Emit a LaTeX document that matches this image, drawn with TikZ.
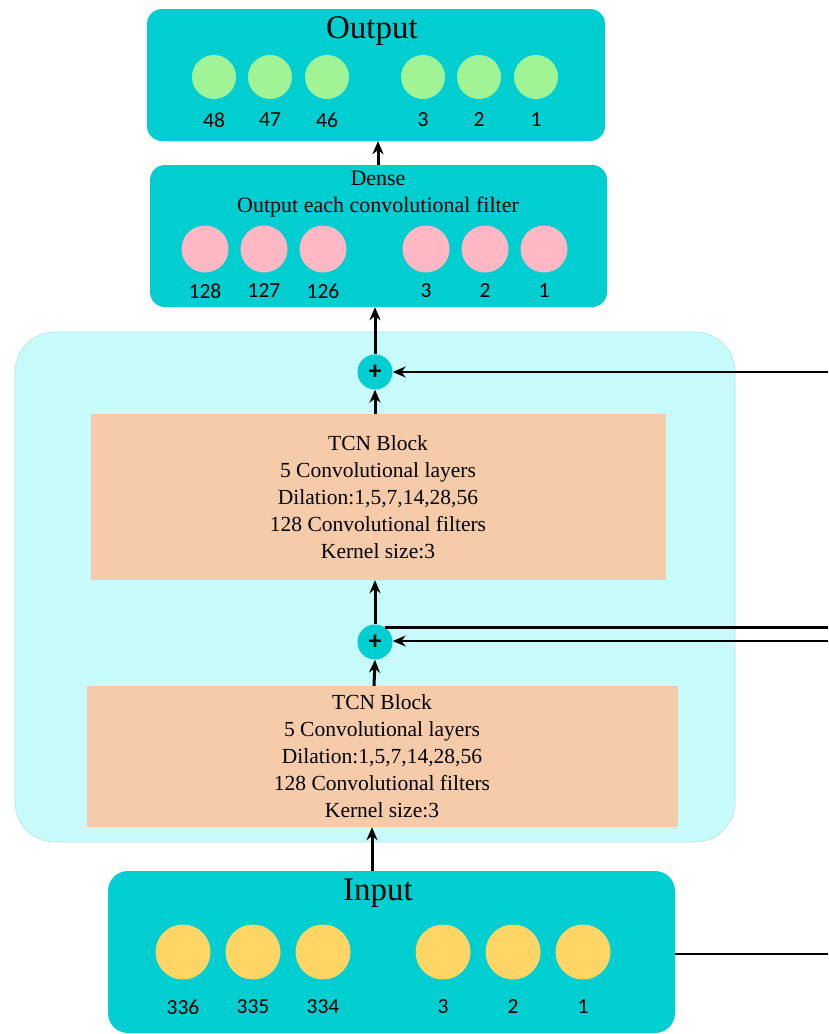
\documentclass[tikz,border=0pt]{standalone}
\usepackage{fontspec}
\setmainfont{Liberation Serif}
\newfontfamily\numfont{Carlito}
\usetikzlibrary{arrows.meta}
\definecolor{tealbox}{RGB}{0,206,209}
\definecolor{lightcyan}{RGB}{200,252,252}
\definecolor{cyanedge}{RGB}{180,225,228}
\definecolor{peach}{RGB}{245,203,170}
\definecolor{greenc}{RGB}{160,244,150}
\definecolor{pinkc}{RGB}{255,184,196}
\definecolor{yellowc}{RGB}{255,214,102}
\tikzset{
  tbox/.style={rectangle, fill=tealbox, rounded corners=15pt, inner sep=0pt},
  blockbox/.style={rectangle, fill=peach, inner sep=0pt},
  outerbox/.style={rectangle, fill=lightcyan, draw=cyanedge, line width=0.6pt, rounded corners=40pt, inner sep=0pt},
  neuron/.style={circle, inner sep=0pt, draw=none},
  numlab/.style={font=\numfont\fontsize{21.5}{21.5}\selectfont, inner sep=0pt},
  titletext/.style={font=\fontsize{33}{33}\selectfont, inner sep=0pt},
  bodytext/.style={font=\fontsize{21.5}{27}\selectfont, align=center, inner sep=0pt},
  plusnode/.style={circle, fill=tealbox, minimum size=35pt, inner sep=0pt, font=\numfont\bfseries\fontsize{26}{26}\selectfont},
  arr/.style={-{Stealth[length=13pt,width=11pt]}, line width=3pt},
  arrthin/.style={-{Stealth[length=13pt,width=11pt]}, line width=2.4pt},
  plain/.style={line width=2.4pt}
}
\begin{document}
\begin{tikzpicture}[x=1pt,y=-1pt]
\useasboundingbox (0,0) rectangle (828,1034);

% Output box
\node[tbox, minimum width=458pt, minimum height=132pt] (outbox) at (376,75) {};
\node[titletext] (outtitle) at (372,31) {Output};
\foreach \x/\l [count=\i] in {214/48,270/47,327/46,423/3,479/2,536/1}{
  \node[neuron, fill=greenc, minimum size=44pt] (o\i) at (\x,77) {};
  \node[numlab] (ol\i) at (\x,120) {\l};
}

% Dense box
\node[tbox, minimum width=457pt, minimum height=142pt] (densebox) at (378.5,236) {};
\node[bodytext, font=\fontsize{22}{27}\selectfont] (densetext) at (378,194) {Dense\\Output each convolutional filter};
\foreach \x/\l [count=\i] in {205/128,264/127,323/126,426/3,485/2,544/1}{
  \node[neuron, fill=pinkc, minimum size=47pt] (d\i) at (\x,249) {};
  \node[numlab] (dl\i) at (\x,291) {\l};
}

% Outer light box
\node[outerbox, minimum width=720pt, minimum height=510pt] (outer) at (375,587) {};

% TCN blocks
\node[blockbox, minimum width=575pt, minimum height=166pt] (tcn1) at (378.5,497) {};
\node[bodytext] (tcn1text) at (378,497) {TCN Block\\5 Convolutional layers\\Dilation:1,5,7,14,28,56\\128 Convolutional filters\\Kernel size:3};
\node[blockbox, minimum width=591pt, minimum height=141pt] (tcn2) at (382.5,756.5) {};
\node[bodytext] (tcn2text) at (382,756) {TCN Block\\5 Convolutional layers\\Dilation:1,5,7,14,28,56\\128 Convolutional filters\\Kernel size:3};

% Plus nodes
\node[plusnode] (p1) at (375,372) {+};
\node[plusnode] (p2) at (375,642) {+};

% Input box
\node[tbox, minimum width=567pt, minimum height=162pt, rounded corners=20pt] (inbox) at (391.5,952) {};
\node[titletext] (intitle) at (378,893) {Input};
\foreach \x/\l [count=\i] in {183/336,253/335,323/334,443/3,513/2,583/1}{
  \node[neuron, fill=yellowc, minimum size=55pt] (n\i) at (\x,952) {};
  \node[numlab] (nl\i) at (\x,1007) {\l};
}

% Right-edge coordinates
\coordinate (r1) at (828,372);
\coordinate (r2) at (828,628);
\coordinate (r3) at (828,641);
\coordinate (r4) at (828,954);

% Vertical connectors
\draw[arr] (inbox.north -| 372,0) -- (tcn2.south -| 372,0);
\draw[arr] (tcn2.north -| 374,0) -- (p2.south);
\draw[arr] (p2.north) -- (tcn1.south -| 375,0);
\draw[arr] (tcn1.north -| 375,0) -- (p1.south);
\draw[arr] (p1.north) -- (densebox.south -| 375,0);
\draw[arr] (densebox.north -| 378,0) -- (outbox.south -| 378,0);

% Horizontal connectors
\draw[arrthin] (r1) -- (p1.east);
\draw[plain] (p2.55) -- (p2.55 -| r2);
\draw[arrthin] (r3) -- (p2.east |- r3);
\draw[plain] (inbox.east |- r4) -- (r4);
\end{tikzpicture}
\end{document}
